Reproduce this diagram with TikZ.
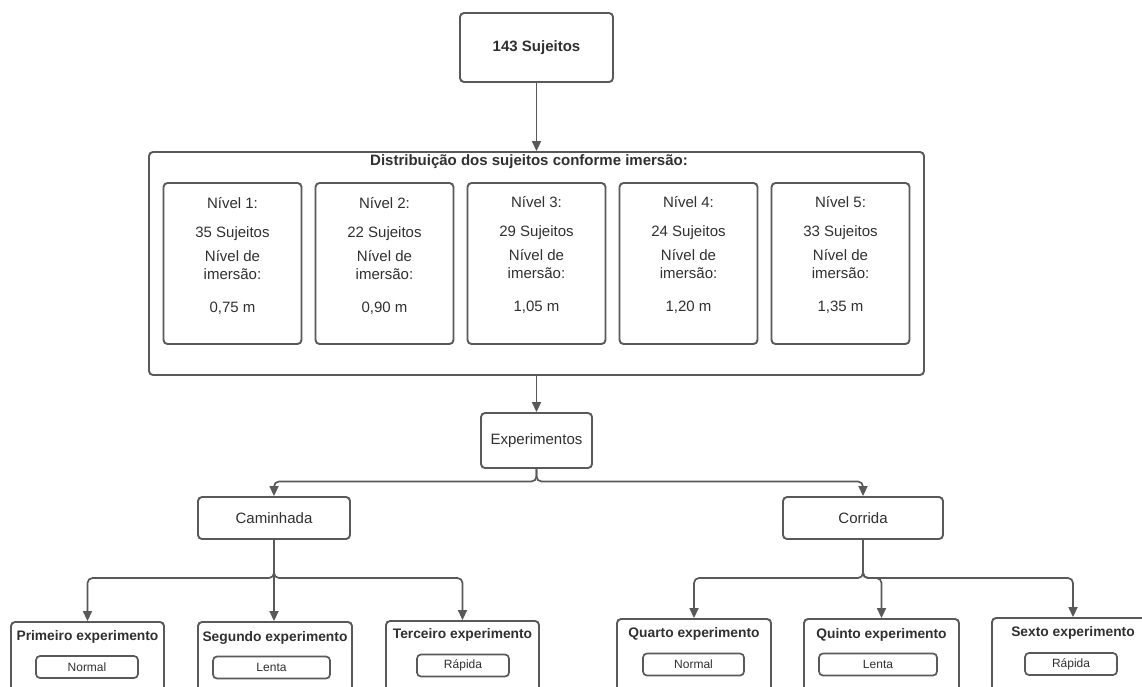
\documentclass[tikz,border=0pt]{standalone}
\usepackage{fontspec}
\setmainfont{Liberation Sans}
\usetikzlibrary{arrows.meta}
\definecolor{ln}{HTML}{595959}
\definecolor{tx}{HTML}{303030}
\begin{document}
\begin{tikzpicture}[x=1pt,y=-1pt,
  box/.style={draw=ln, line width=1.9pt, rounded corners=4pt, inner sep=0pt, text=tx, fill=white},
  bigtxt/.style={text=tx, font=\fontsize{15}{18}\selectfont, inner sep=0pt},
  boldtxt/.style={text=tx, font=\fontsize{15}{18}\selectfont\bfseries, inner sep=0pt},
  exptitle/.style={text=tx, font=\fontsize{13.8}{16}\selectfont\bfseries, inner sep=0pt},
  smallbox/.style={box, line width=1.7pt, font=\fontsize{12}{14}\selectfont, minimum height=22pt},
  lvlbox/.style={box, minimum width=138pt, minimum height=161pt},
  lvltxt/.style={bigtxt, align=center},
  conn/.style={draw=ln, line width=1.7pt, rounded corners=5pt, -{Triangle[length=10pt,width=9pt]}},
]
\useasboundingbox (0,0) rectangle (1142,686);
\clip (0,0) rectangle (1142,686);
\fill[white] (0,0) rectangle (1142,686);

% top
\node[box, boldtxt, minimum width=153pt, minimum height=69pt] (top) at (536.5,47.5) {143 Sujeitos};

% outer distribution box
\node[box, minimum width=775pt, minimum height=223pt] (outer) at (536.5,263.5) {};
\node[boldtxt] (title) at (529,162) {Distribuição dos sujeitos conforme imersão:};

\node[lvlbox] (b1) at (232.5,263.5) {};
\node[lvlbox] (b2) at (384.5,263.5) {};
\node[lvlbox] (b3) at (536.5,263.5) {};
\node[lvlbox] (b4) at (688.5,263.5) {};
\node[lvlbox] (b5) at (840.5,263.5) {};

\node[lvltxt] (t1) at (232.5,255.5) {Nível 1:\\[11pt]35 Sujeitos\\[6pt]Nível de\\imersão:\\[15pt]0,75 m};
\node[lvltxt] (t2) at (384.5,255.5) {Nível 2:\\[11pt]22 Sujeitos\\[6pt]Nível de\\imersão:\\[15pt]0,90 m};
\node[lvltxt] (t3) at (536.5,254.5) {Nível 3:\\[11pt]29 Sujeitos\\[6pt]Nível de\\imersão:\\[15pt]1,05 m};
\node[lvltxt] (t4) at (688.5,254.5) {Nível 4:\\[11pt]24 Sujeitos\\[6pt]Nível de\\imersão:\\[15pt]1,20 m};
\node[lvltxt] (t5) at (840.5,254.5) {Nível 5:\\[11pt]33 Sujeitos\\[6pt]Nível de\\imersão:\\[15pt]1,35 m};

% experiments
\node[box, bigtxt, minimum width=111pt, minimum height=55pt] (exp) at (536.5,440.5) {Experimentos};
\node[box, bigtxt, minimum width=152pt, minimum height=42pt] (cam) at (274,518) {Caminhada};
\node[box, bigtxt, minimum width=160pt, minimum height=42pt] (cor) at (863,518) {Corrida};

% bottom boxes
\node[box, minimum width=153pt, minimum height=78pt] (p1) at (87.5,661) {};
\node[box, minimum width=154pt, minimum height=78pt] (p2) at (275,661) {};
\node[box, minimum width=153pt, minimum height=79pt] (p3) at (462.5,660.5) {};
\node[box, minimum width=154pt, minimum height=81pt] (p4) at (694,659.5) {};
\node[box, minimum width=155pt, minimum height=81pt] (p5) at (881.5,659.5) {};
\node[box, minimum width=162pt, minimum height=82pt] (p6) at (1073,659) {};

\node[exptitle] (h1) at (87.5,637) {Primeiro experimento};
\node[exptitle] (h2) at (275,638) {Segundo experimento};
\node[exptitle] (h3) at (462.5,634.5) {Terceiro experimento};
\node[exptitle] (h4) at (694,633.5) {Quarto experimento};
\node[exptitle] (h5) at (881.5,635) {Quinto experimento};
\node[exptitle] (h6) at (1073,633) {Sexto experimento};

\node[smallbox, minimum width=102pt] (s1) at (87,667) {Normal};
\node[smallbox, minimum width=117pt] (s2) at (271.5,667.5) {Lenta};
\node[smallbox, minimum width=92pt] (s3) at (463,665.5) {Rápida};
\node[smallbox, minimum width=101pt] (s4) at (693.5,664.5) {Normal};
\node[smallbox, minimum width=118pt] (s5) at (878,664.5) {Lenta};
\node[smallbox, minimum width=92pt] (s6) at (1071,664) {Rápida};

% connectors
\draw[conn] (top.south) -- (outer.north);
\draw[conn] (outer.south) -- (exp.north);

\coordinate (expj) at (536.5,481.5);
\draw[conn] (exp.south) -- (expj) -| (cam.north);
\draw[conn] (exp.south) -- (expj) -| (cor.north);

\coordinate (camj) at (274,578);
\draw[conn] (cam.south) -- (camj) -| (p1.north);
\draw[conn] (cam.south) -- (cam.south |- p2.north);
\draw[conn] (cam.south) -- (camj) -| (p3.north);

\coordinate (corj) at (863,578);
\draw[conn] (cor.south) -- (corj) -| (p4.north);
\draw[conn] (cor.south) -- (corj) -| (p5.north);
\draw[conn] (cor.south) -- (corj) -| (p6.north);
\end{tikzpicture}
\end{document}
